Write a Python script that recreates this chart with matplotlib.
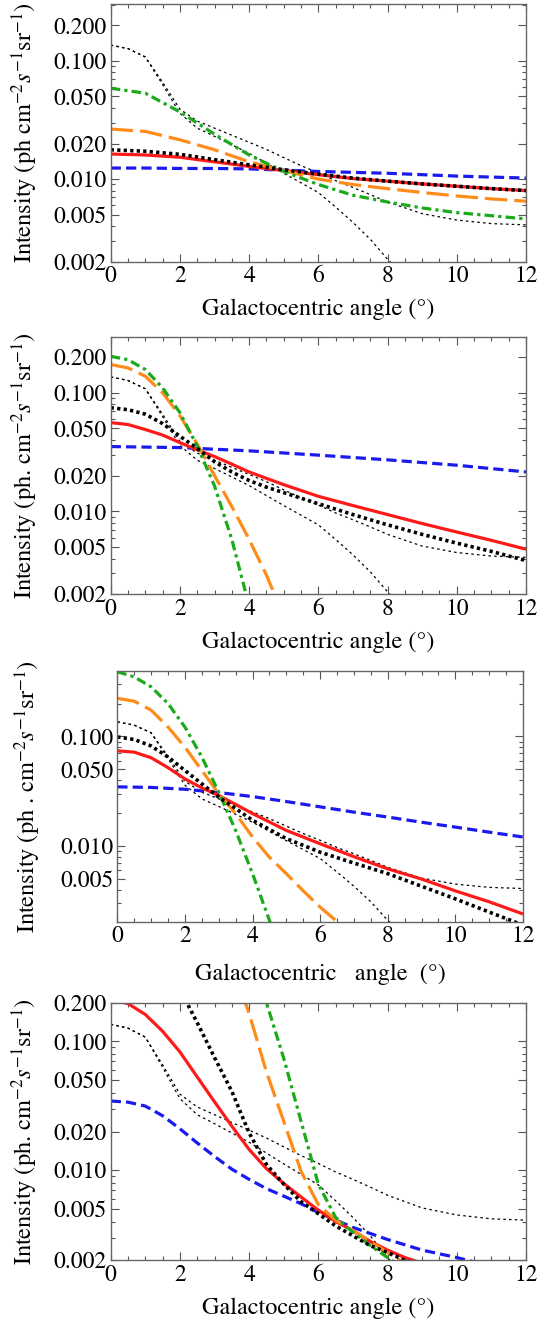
import numpy as np
import matplotlib
matplotlib.use("Agg")
import matplotlib.pyplot as plt
from matplotlib.ticker import FixedLocator, FixedFormatter, MultipleLocator, LogLocator, NullFormatter

plt.rcParams['font.family'] = ['STIXGeneral', 'DejaVu Serif']
plt.rcParams['mathtext.fontset'] = 'stix'

# ---------------- data ----------------
# thin dotted band (same in all panels)
thin_up_x = [0, 0.5, 1, 1.5, 2, 2.5, 3, 3.5, 4, 4.5, 5, 5.5, 6, 6.5, 7, 7.5, 8, 9, 10, 11, 12]
thin_up_y = [0.136, 0.127, 0.108, 0.066, 0.039, 0.031, 0.027, 0.0235, 0.0205, 0.0178, 0.0152,
             0.0130, 0.0113, 0.0097, 0.0085, 0.0074, 0.0064, 0.0051, 0.0045, 0.0042, 0.0041]
thin_lo_x = [0, 0.5, 1, 1.5, 2, 2.5, 3, 3.5, 4, 4.5, 5, 5.5, 6, 6.5, 7, 7.5, 8, 8.5]
thin_lo_y = [0.136, 0.127, 0.108, 0.063, 0.036, 0.027, 0.023, 0.0195, 0.0165, 0.0136, 0.0112,
             0.0093, 0.0077, 0.0058, 0.0043, 0.0031, 0.0021, 0.0015]

# panel 1
p1_x = [0, 1, 2, 3, 4, 5, 6, 7, 8, 9, 10, 11, 12]
p1_red = [0.0163, 0.0160, 0.0153, 0.0140, 0.0128, 0.0118, 0.0109, 0.0101, 0.0096, 0.0091, 0.0087, 0.0083, 0.0080]
p1_black = [0.0177, 0.0172, 0.0162, 0.0146, 0.0132, 0.0120, 0.0110, 0.0102, 0.0096, 0.0091, 0.0087, 0.0083, 0.0080]
p1_blue = [0.0124, 0.0124, 0.0123, 0.0123, 0.0122, 0.0119, 0.0116, 0.0114, 0.0112, 0.0109, 0.0106, 0.0104, 0.0102]
p1_orange = [0.0265, 0.0253, 0.0215, 0.0177, 0.0140, 0.0118, 0.0100, 0.0090, 0.0083, 0.0077, 0.0072, 0.0068, 0.0065]
p1_green_x = [0, 1, 2, 3, 4, 5, 5.5, 6, 7, 8, 9, 10, 11, 12]
p1_green = [0.0587, 0.0533, 0.0370, 0.0240, 0.0160, 0.0116, 0.0102, 0.0090, 0.0073, 0.0064, 0.0057, 0.0052, 0.0049, 0.0046]

# panel 2
p2_x = [0, 0.5, 1, 1.5, 2, 2.5, 3, 3.5, 4, 4.5, 5, 6, 7, 8, 9, 10, 11, 12]
p2_red = [0.056, 0.054, 0.049, 0.044, 0.038, 0.033, 0.0290, 0.025, 0.0215, 0.019, 0.0168,
          0.0134, 0.0112, 0.0094, 0.0079, 0.0067, 0.0057, 0.0048]
p2_black = [0.0748, 0.072, 0.066, 0.055, 0.043, 0.034, 0.0262, 0.0215, 0.0182, 0.0160, 0.0144,
            0.0116, 0.0094, 0.0077, 0.0064, 0.0054, 0.0046, 0.00385]
p2_blue_x = [0, 2, 4, 6, 8, 10, 12]
p2_blue = [0.0352, 0.0345, 0.0324, 0.0298, 0.0272, 0.0245, 0.0215]
p2_orange_x = [0, 0.5, 1, 1.5, 2, 2.5, 3, 3.5, 4, 4.5, 5]
p2_orange = [0.173, 0.162, 0.138, 0.100, 0.064, 0.037, 0.020, 0.011, 0.0058, 0.0029, 0.0013]
p2_green_x = [0, 0.5, 1, 1.5, 2, 2.5, 3, 3.5, 4]
p2_green = [0.203, 0.19, 0.157, 0.11, 0.068, 0.0356, 0.0164, 0.0058, 0.0016]

# panel 3
p3_x = [0, 0.5, 1, 1.5, 2, 2.5, 3, 3.5, 4, 5, 6, 7, 8, 9, 10, 11, 12]
p3_red = [0.074, 0.072, 0.064, 0.052, 0.041, 0.034, 0.029, 0.024, 0.0198, 0.0139, 0.0105, 0.0080,
          0.0062, 0.0050, 0.0039, 0.0031, 0.0024]
p3_black = [0.099, 0.094, 0.082, 0.065, 0.049, 0.037, 0.028, 0.022, 0.0172, 0.0117, 0.0088, 0.0070,
            0.0056, 0.0043, 0.0033, 0.0025, 0.0019]
p3_blue_x = [0, 1, 2, 3, 4, 5, 6, 7, 8, 9, 10, 11, 12]
p3_blue = [0.0347, 0.0343, 0.0330, 0.0308, 0.0283, 0.0255, 0.0228, 0.0204, 0.0184, 0.0165, 0.0149, 0.0134, 0.0121]
p3_orange_x = [0, 0.5, 1, 1.5, 2, 2.5, 3, 3.5, 4, 4.5, 5, 5.5, 6, 6.5, 7]
p3_orange = [0.223, 0.21, 0.174, 0.122, 0.080, 0.049, 0.030, 0.0198, 0.0121, 0.0079, 0.0056,
             0.0039, 0.00277, 0.00205, 0.0015]
p3_green_x = [0, 0.5, 1, 1.5, 2, 2.5, 3, 3.5, 4, 4.5, 5]
p3_green = [0.39, 0.35, 0.284, 0.20, 0.122, 0.065, 0.031, 0.0139, 0.0056, 0.0021, 0.0007]

# panel 4
p4_red_x = [0, 0.5, 1, 1.5, 2, 2.5, 3, 3.5, 4, 4.5, 5, 5.5, 6, 6.5, 7, 7.5, 8, 8.5, 9]
p4_red = [0.21, 0.197, 0.162, 0.12, 0.083, 0.053, 0.034, 0.022, 0.0145, 0.0103, 0.0079, 0.0062,
          0.0049, 0.0040, 0.0034, 0.0028, 0.0024, 0.0021, 0.0019]
p4_black_x = [1.8, 2, 2.2, 2.5, 3, 3.5, 4, 4.5, 5, 5.5, 6, 6.5, 7, 7.5, 8, 8.5, 9]
p4_black = [0.32, 0.255, 0.2, 0.14, 0.075, 0.041, 0.0195, 0.0111, 0.0078, 0.0057, 0.0046, 0.0037,
            0.0031, 0.0026, 0.0023, 0.0020, 0.0018]
p4_orange_x = [3.5, 4, 4.5, 5, 5.5, 6, 6.5, 7, 7.5, 8, 8.5]
p4_orange = [0.40, 0.165, 0.058, 0.024, 0.0098, 0.0054, 0.0041, 0.0034, 0.0028, 0.0023, 0.0019]
p4_green_x = [4, 4.5, 5, 5.5, 6, 6.5, 7, 7.5, 8, 8.5]
p4_green = [0.5, 0.2, 0.074, 0.024, 0.0078, 0.0043, 0.0033, 0.0026, 0.0021, 0.0017]
p4_blue_x = [0, 0.5, 1, 1.5, 2, 2.5, 3, 3.5, 4, 4.5, 5, 5.5, 6, 7, 8, 9, 10, 11]
p4_blue = [0.0345, 0.0338, 0.0315, 0.0265, 0.0210, 0.0163, 0.0128, 0.0102, 0.0085, 0.0072, 0.0063,
           0.0055, 0.0047, 0.0036, 0.0029, 0.0024, 0.0021, 0.0018]

yticks_full = [0.2, 0.1, 0.05, 0.02, 0.01, 0.005, 0.002]
ylabels_full = ["0.200", "0.100", "0.050", "0.020", "0.010", "0.005", "0.002"]
yticks_p3 = [0.1, 0.05, 0.01, 0.005]
ylabels_p3 = ["0.100", "0.050", "0.010", "0.005"]
xticks = [0, 2, 4, 6, 8, 10, 12]

# ---------------- styles ----------------
C_RED = '#ff1a1a'
C_BLUE = '#1a1aee'
C_ORANGE = '#ff8c1a'
C_GREEN = '#1aaa1a'
LW = 2.3
FS_TICK = 17
FS_LAB = 17.5

W, H = 553, 1323
fig = plt.figure(figsize=(W / 100, H / 100), dpi=100)

def add_axes(l, r, top, bot):
    return fig.add_axes([l / W, 1 - bot / H, (r - l) / W, (bot - top) / H])

axes = [
    add_axes(110.7, 526, 4, 261.7),
    add_axes(110.7, 526, 336.7, 594.3),
    add_axes(117.3, 523, 671, 921.5),
    add_axes(110.7, 526, 1002.7, 1260.3),
]
ylims = [(0.002, 0.303), (0.002, 0.297), (0.00205, 0.396), (0.002, 0.2)]
ylabel_std = r"Intensity (ph cm$^{-2}s^{-1}$sr$^{-1}$)"
ylabel_dot = r"Intensity (ph. cm$^{-2}s^{-1}$sr$^{-1}$)"
ylabel_p3 = r"Intensity (ph . cm$^{-2}s^{-1}$sr$^{-1}$)"
ylabels = [ylabel_std, ylabel_dot, ylabel_p3, ylabel_dot]
xlabels = ["Galactocentric angle (°)", "Galactocentric angle (°)",
           "Galactocentric   angle  (°)", "Galactocentric angle (°)"]

def draw(ax, red, black, blue, orange, green):
    ax.plot(thin_up_x, thin_up_y, color='k', lw=0.9, dashes=(2.0, 2.6))
    ax.plot(thin_lo_x, thin_lo_y, color='k', lw=0.9, dashes=(2.0, 2.6))
    ax.plot(*blue, color=C_BLUE, lw=LW, dashes=(3.2, 1.6))
    ax.plot(*red, color=C_RED, lw=LW, solid_capstyle='butt')
    ax.plot(*orange, color=C_ORANGE, lw=LW, dashes=(7, 2.2))
    ax.plot(*green, color=C_GREEN, lw=LW, dashes=(3.0, 1.3, 1.0, 1.3))
    ax.plot(*black, color='k', lw=2.6, dashes=(0.9, 0.9))

draw(axes[0], (p1_x, p1_red), (p1_x, p1_black), (p1_x, p1_blue), (p1_x, p1_orange), (p1_green_x, p1_green))
draw(axes[1], (p2_x, p2_red), (p2_x, p2_black), (p2_blue_x, p2_blue), (p2_orange_x, p2_orange), (p2_green_x, p2_green))
draw(axes[2], (p3_x, p3_red), (p3_x, p3_black), (p3_blue_x, p3_blue), (p3_orange_x, p3_orange), (p3_green_x, p3_green))
draw(axes[3], (p4_red_x, p4_red), (p4_black_x, p4_black), (p4_blue_x, p4_blue), (p4_orange_x, p4_orange), (p4_green_x, p4_green))

for i, ax in enumerate(axes):
    ax.set_yscale('log')
    ax.set_xlim(0, 12)
    ax.set_ylim(*ylims[i])
    if i == 2:
        ax.yaxis.set_major_locator(FixedLocator(yticks_p3))
        ax.yaxis.set_major_formatter(FixedFormatter(ylabels_p3))
    else:
        ax.yaxis.set_major_locator(FixedLocator(yticks_full))
        ax.yaxis.set_major_formatter(FixedFormatter(ylabels_full))
    ax.yaxis.set_minor_locator(LogLocator(base=10, subs=np.arange(1, 10), numticks=20))
    ax.yaxis.set_minor_formatter(NullFormatter())
    ax.xaxis.set_major_locator(FixedLocator(xticks))
    ax.xaxis.set_minor_locator(MultipleLocator(0.5))
    ax.tick_params(which='both', direction='in', top=True, right=True, color='#555555',
                   labelsize=FS_TICK, width=0.8)
    ax.tick_params(which='major', length=5.5, pad=3)
    ax.tick_params(which='minor', length=2.8)
    for s in ax.spines.values():
        s.set_color('#666666')
        s.set_linewidth(1.0)
    ax.set_ylabel(ylabels[i], fontsize=FS_LAB)
    ax.set_xlabel(xlabels[i], fontsize=FS_LAB)
    if i == 2:
        ax.yaxis.set_label_coords(-0.182, 0.5)
        ax.xaxis.set_label_coords(0.5, -0.17)
    else:
        ax.yaxis.set_label_coords(-0.17, 0.5)
        ax.xaxis.set_label_coords(0.5, -0.145)

fig.savefig("out.png", dpi=100)
